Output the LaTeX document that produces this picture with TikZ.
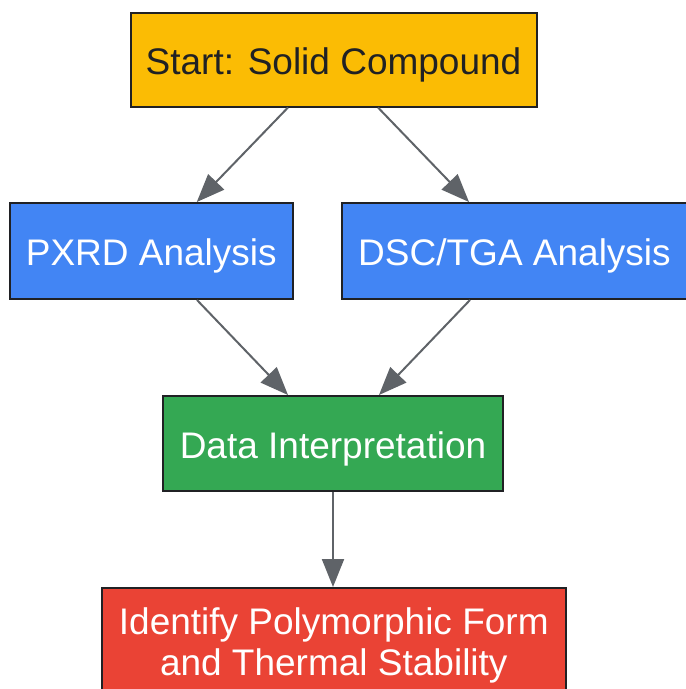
\documentclass[tikz,border=0pt]{standalone}
\usepackage{fontspec}
\setmainfont{Liberation Sans}
\usetikzlibrary{arrows.meta}
\definecolor{gyellow}{HTML}{FBBC04}
\definecolor{gblue}{HTML}{4285F4}
\definecolor{ggreen}{HTML}{34A853}
\definecolor{gred}{HTML}{EA4335}
\definecolor{edgec}{HTML}{202124}
\definecolor{arrowc}{HTML}{5F6368}
\begin{document}
\begin{tikzpicture}[x=1pt,y=-1pt,
  basebox/.style={draw=edgec, line width=2pt, rectangle, inner sep=0pt,
    font=\fontsize{37}{41}\selectfont, align=center, text=white},
  box/.style={basebox, text height=33pt, text depth=4pt},
  conn/.style={draw=arrowc, line width=2pt, -{Triangle[length=28pt,width=22pt]}}]
\useasboundingbox (0,0) rectangle (686,689);
\node[box, fill=gyellow, text=edgec, minimum width=406pt, minimum height=94pt] (start) at (333.5,59.5) {Start: Solid Compound};
\node[box, fill=gblue, minimum width=283pt, minimum height=96pt] (pxrd) at (151.3,251) {PXRD Analysis};
\node[box, fill=gblue, minimum width=346pt, minimum height=96pt] (dsc) at (514.5,251) {DSC/TGA Analysis};
\node[box, fill=ggreen, minimum width=340pt, minimum height=95pt] (data) at (333,443.5) {Data Interpretation};
\node[basebox, fill=gred, minimum width=464pt, minimum height=114pt] (ident) at (333.8,645) {Identify Polymorphic Form\\and Thermal Stability};
\draw[conn] ([xshift=-45.5pt]start.south) -- ([xshift=45.5pt]pxrd.north);
\draw[conn] ([xshift=44.5pt]start.south) -- ([xshift=-45.5pt]dsc.north);
\draw[conn] ([xshift=45.7pt]pxrd.south) -- ([xshift=-45pt]data.north);
\draw[conn] ([xshift=-44.5pt]dsc.south) -- ([xshift=46pt]data.north);
\draw[conn] (data.south) -- (data.south |- ident.north);
\end{tikzpicture}
\end{document}
